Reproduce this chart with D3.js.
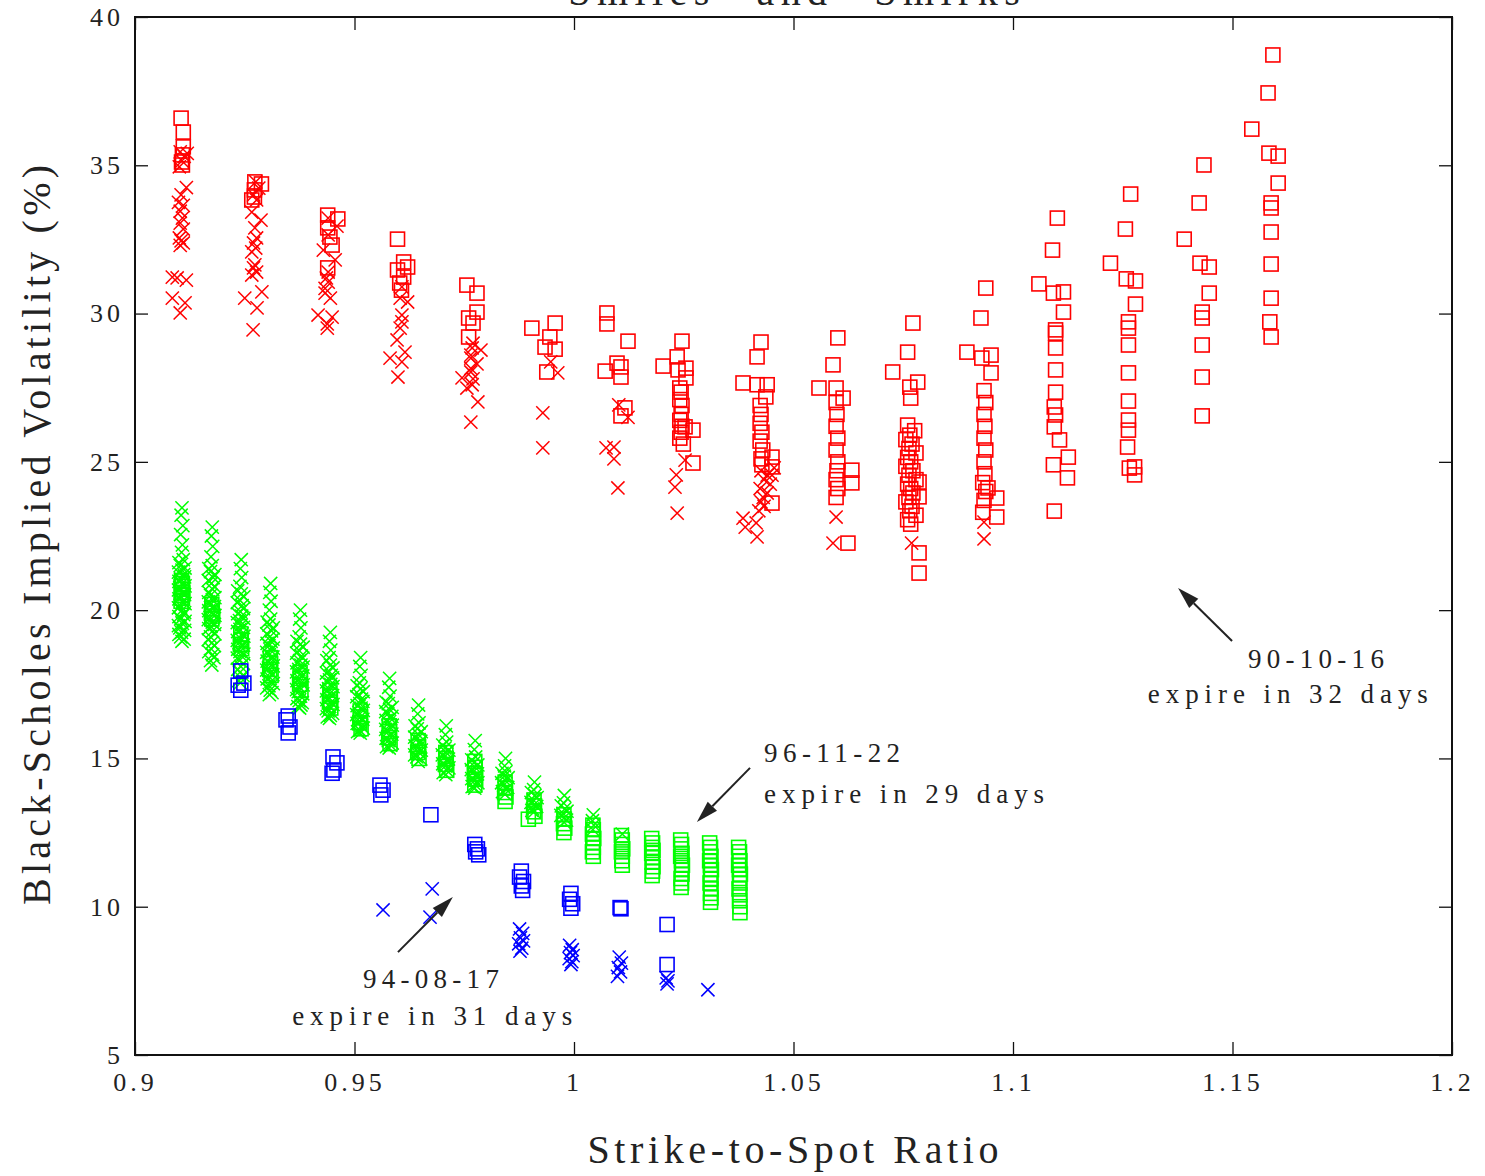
<!DOCTYPE html>
<html>
<head>
<meta charset="utf-8">
<script src="https://cdn.jsdelivr.net/npm/d3@7"></script>
<style>
  body { margin: 0; background: #fff; }
  text { font-family: "Liberation Serif", "DejaVu Serif", serif; fill: #222; }
</style>
</head>
<body>
<svg id="chart"></svg>
<script>
// Strike-to-spot ratio vs. Black-Scholes implied volatility (%) for three trade dates.

// 1990-10-16, 32 days to expiry
const oct90Cross = [
  [0.9103,35.45],[0.9112,35.30],[0.9119,35.40],[0.9107,35.15],[0.9101,34.95],
  [0.9117,34.25],[0.9105,34.00],[0.9099,33.75],[0.9110,33.65],[0.9103,33.45],[0.9108,33.22],
  [0.9103,33.05],[0.9110,32.85],[0.9101,32.55],[0.9105,32.45],[0.9110,32.38],[0.9103,32.30],
  [0.9085,31.23],[0.9096,31.20],[0.9117,31.13],[0.9085,30.52],[0.9114,30.36],[0.9103,30.02],
  [0.9275,34.44],[0.9282,34.23],[0.9270,34.00],[0.9277,33.83],[0.9266,33.42],[0.9287,33.15],
  [0.9273,32.89],[0.9277,32.55],[0.9270,32.38],[0.9275,32.21],[0.9266,32.08],[0.9273,31.64],
  [0.9270,31.54],[0.9277,31.40],[0.9266,31.30],[0.9250,30.52],[0.9289,30.73],[0.9278,30.19],
  [0.9269,29.45],
  [0.9440,33.22],[0.9460,32.95],[0.9440,32.65],[0.9429,32.14],[0.9456,31.81],[0.9440,31.40],
  [0.9436,31.20],[0.9440,31.06],[0.9433,30.85],[0.9433,30.69],[0.9445,30.52],[0.9417,29.95],
  [0.9449,29.88],[0.9438,29.65],[0.9438,29.51],
  [0.9608,30.90],[0.9604,30.52],[0.9621,30.39],[0.9608,29.95],[0.9608,29.72],[0.9604,29.51],
  [0.9597,29.11],[0.9581,28.50],[0.9615,28.70],[0.9608,28.37],[0.9599,27.86],
  [0.9770,29.00],[0.9768,28.84],[0.9788,28.77],[0.9765,28.60],[0.9765,28.50],[0.9779,28.30],
  [0.9765,28.15],[0.9745,27.83],[0.9765,28.03],[0.9770,27.80],[0.9768,27.60],[0.9756,27.49],
  [0.9781,27.02],[0.9765,26.34],
  [0.9947,28.37],[0.9963,28.00],[0.9929,26.65],[0.9929,25.47],
  [1.0102,26.92],[1.0123,26.50],[1.0073,25.47],[1.0091,25.50],[1.0091,25.10],[1.0100,24.12],
  [1.0253,25.06],[1.0233,24.56],[1.0230,24.15],[1.0235,23.27],
  [1.0426,24.70],[1.0440,24.55],[1.0433,24.40],[1.0447,24.25],[1.0424,24.10],[1.0440,23.95],
  [1.0431,23.80],[1.0426,23.65],[1.0433,23.50],[1.0421,23.35],[1.0385,23.10],[1.0390,22.80],
  [1.0415,22.94],[1.0417,22.47],[1.0451,24.55],[1.0456,24.80],
  [1.0597,23.14],[1.0590,22.26],
  [1.0769,22.26],
  [1.0934,22.97],[1.0934,22.40]
];
const oct90Square = [
  [0.9105,36.59],[0.9110,36.12],[0.9110,35.62],[0.9108,35.35],[0.9106,35.11],[0.9108,35.01],
  [0.9273,34.44],[0.9288,34.37],[0.9272,34.17],[0.9272,33.93],[0.9266,33.83],
  [0.9439,33.32],[0.9462,33.19],[0.9439,32.89],[0.9444,32.58],[0.9449,32.31],[0.9439,31.54],
  [0.9598,32.51],[0.9612,31.74],[0.9621,31.57],[0.9598,31.47],[0.9612,31.23],[0.9603,31.03],[0.9607,30.79],
  [0.9756,30.96],[0.9779,30.69],[0.9779,30.05],[0.9760,29.85],[0.9770,29.68],[0.9760,29.21],
  [0.9904,29.51],[0.9957,29.68],[0.9945,29.21],[0.9934,28.87],[0.9957,28.80],[0.9938,28.03],
  [1.0075,30.02],[1.0075,29.65],[1.0123,29.07],[1.0071,28.06],[1.0098,28.33],[1.0107,28.20],
  [1.0107,27.86],[1.0116,26.82],[1.0107,26.55],
  [1.0246,29.07],[1.0203,28.23],[1.0235,28.54],[1.0255,28.16],[1.0237,28.10],[1.0255,27.83],
  [1.0241,27.49],[1.0244,27.35],[1.0241,27.10],[1.0246,26.90],[1.0244,26.60],[1.0241,26.40],
  [1.0246,26.20],[1.0244,26.00],[1.0241,25.80],[1.0249,25.60],[1.0271,26.07],[1.0253,26.18],[1.0271,24.96],
  [1.0426,29.04],[1.0417,28.54],[1.0385,27.66],[1.0417,27.60],[1.0440,27.60],[1.0437,27.19],
  [1.0424,26.90],[1.0426,26.60],[1.0424,26.30],[1.0428,26.00],[1.0424,25.70],[1.0430,25.40],
  [1.0426,25.10],[1.0428,24.90],[1.0451,25.16],[1.0451,24.83],[1.0451,23.61],
  [1.0601,29.18],[1.0590,28.27],[1.0558,27.49],[1.0597,27.49],[1.0613,27.15],[1.0597,27.00],
  [1.0599,26.60],[1.0597,26.20],[1.0601,25.80],[1.0597,25.40],[1.0601,25.00],[1.0599,24.70],
  [1.0597,24.40],[1.0601,24.10],[1.0597,23.80],[1.0633,24.72],[1.0633,24.29],[1.0624,22.26],
  [1.0772,29.68],[1.0760,28.70],[1.0726,28.03],[1.0783,27.69],[1.0765,27.52],[1.0767,27.15],
  [1.0760,26.24],[1.0776,26.05],[1.0765,25.90],[1.0756,25.75],[1.0770,25.60],[1.0763,25.45],
  [1.0779,25.30],[1.0760,25.15],[1.0767,25.00],[1.0756,24.85],[1.0772,24.70],[1.0763,24.55],
  [1.0779,24.40],[1.0760,24.25],[1.0767,24.10],[1.0772,23.95],[1.0763,23.80],[1.0756,23.65],
  [1.0770,23.50],[1.0765,23.35],[1.0779,23.20],[1.0760,23.05],[1.0767,22.90],[1.0786,24.32],
  [1.0786,23.82],[1.0786,21.93],[1.0786,21.25],
  [1.0938,30.86],[1.0927,29.85],[1.0895,28.70],[1.0929,28.50],[1.0950,28.60],[1.0950,28.00],
  [1.0934,27.40],[1.0938,27.00],[1.0934,26.60],[1.0936,26.20],[1.0934,25.80],[1.0938,25.40],
  [1.0934,25.00],[1.0936,24.60],[1.0931,24.30],[1.0938,24.00],[1.0934,23.70],[1.0931,23.30],
  [1.0943,24.12],[1.0963,23.78],[1.0963,23.14],
  [1.1101,33.22],[1.1090,32.14],[1.1059,31.00],[1.1092,30.69],[1.1115,30.73],[1.1115,30.05],
  [1.1097,29.45],[1.1097,29.34],[1.1097,28.84],[1.1097,28.10],[1.1097,27.35],[1.1094,26.85],
  [1.1097,26.58],[1.1094,26.18],[1.1106,25.74],[1.1126,25.16],[1.1092,24.90],[1.1124,24.46],[1.1094,23.34],
  [1.1268,34.03],[1.1256,32.85],[1.1222,31.70],[1.1258,31.17],[1.1279,31.10],[1.1279,30.32],
  [1.1263,29.72],[1.1263,29.51],[1.1263,28.94],[1.1263,28.00],[1.1263,27.05],[1.1263,26.41],
  [1.1263,26.07],[1.1261,25.50],[1.1265,24.79],[1.1277,24.83],[1.1277,24.56],
  [1.1435,35.01],[1.1424,33.73],[1.1390,32.51],[1.1426,31.70],[1.1447,31.57],[1.1447,30.69],
  [1.1431,30.05],[1.1431,29.85],[1.1431,28.94],[1.1431,27.86],[1.1431,26.55],
  [1.1592,38.72],[1.1581,37.44],[1.1544,36.22],[1.1583,35.41],[1.1604,35.31],[1.1604,34.40],
  [1.1588,33.73],[1.1588,33.56],[1.1588,32.75],[1.1588,31.67],[1.1588,30.52],[1.1585,29.72],[1.1588,29.21]
];

// 1996-11-22, 29 days to expiry
const nov96Cross = [
  [0.9107,23.45],[0.9105,23.20],[0.9109,22.85],[0.9104,22.55],[0.9108,22.20],[0.9106,21.95],
  [0.9110,21.70],[0.9103,21.50],[0.9107,21.35],[0.9111,21.20],[0.9104,21.05],[0.9108,20.90],
  [0.9102,20.75],[0.9110,20.60],[0.9105,20.45],[0.9109,20.30],[0.9103,20.15],[0.9107,20.00],
  [0.9111,19.85],[0.9104,19.70],[0.9108,19.55],[0.9102,19.40],[0.9106,19.25],[0.9104,19.10],[0.9107,18.95],
  [0.9100,21.60],[0.9114,21.42],[0.9099,21.28],[0.9113,21.12],[0.9100,20.97],[0.9114,20.82],
  [0.9099,20.68],[0.9113,20.52],[0.9100,20.38],[0.9114,20.22],[0.9099,20.08],[0.9113,19.92],
  [0.9100,19.78],[0.9114,19.62],[0.9099,19.48],[0.9113,19.32],[0.9100,19.18],[0.9112,19.02],
  [0.9176,22.80],[0.9174,22.50],[0.9177,22.15],[0.9173,21.80],[0.9176,21.50],[0.9172,21.30],
  [0.9178,21.10],[0.9174,20.90],[0.9177,20.70],[0.9172,20.50],[0.9176,20.35],[0.9173,20.20],
  [0.9178,20.05],[0.9174,19.90],[0.9171,19.75],[0.9176,19.60],[0.9173,19.45],[0.9177,19.30],
  [0.9172,19.10],[0.9175,18.90],[0.9173,18.70],[0.9177,18.50],[0.9172,18.30],[0.9175,18.15],
  [0.9168,21.40],[0.9182,21.20],[0.9167,21.00],[0.9181,20.80],[0.9168,20.60],[0.9182,20.42],
  [0.9167,20.28],[0.9181,20.12],[0.9168,19.98],[0.9182,19.82],[0.9167,19.68],[0.9181,19.52],
  [0.9168,19.38],[0.9182,19.20],[0.9167,19.00],[0.9181,18.80],[0.9168,18.60],[0.9180,18.40],
  [0.9242,21.70],[0.9240,21.40],[0.9243,21.10],[0.9239,20.80],[0.9242,20.55],[0.9238,20.35],
  [0.9244,20.15],[0.9240,19.95],[0.9243,19.80],[0.9238,19.65],[0.9242,19.50],[0.9239,19.35],
  [0.9244,19.20],[0.9240,19.05],[0.9237,18.90],[0.9242,18.75],[0.9239,18.60],[0.9243,18.45],
  [0.9238,18.30],[0.9241,18.10],[0.9239,17.90],[0.9242,17.70],[0.9240,17.55],
  [0.9234,20.65],[0.9248,20.45],[0.9233,20.25],[0.9247,20.05],[0.9234,19.88],[0.9248,19.72],
  [0.9233,19.58],[0.9247,19.42],[0.9234,19.28],[0.9248,19.12],[0.9233,18.98],[0.9247,18.82],
  [0.9234,18.68],[0.9248,18.52],[0.9233,18.38],[0.9247,18.20],[0.9234,18.00],[0.9246,17.80],[0.9236,17.62],
  [0.9309,20.90],[0.9307,20.60],[0.9310,20.30],[0.9306,20.00],[0.9309,19.70],[0.9305,19.50],
  [0.9311,19.30],[0.9307,19.10],[0.9310,18.95],[0.9305,18.80],[0.9309,18.65],[0.9306,18.50],
  [0.9311,18.35],[0.9307,18.20],[0.9304,18.05],[0.9309,17.90],[0.9306,17.75],[0.9310,17.60],
  [0.9305,17.45],[0.9308,17.30],[0.9306,17.15],
  [0.9301,19.60],[0.9315,19.40],[0.9300,19.20],[0.9314,19.02],[0.9301,18.88],[0.9315,18.72],
  [0.9300,18.58],[0.9314,18.42],[0.9301,18.28],[0.9315,18.12],[0.9300,17.98],[0.9314,17.82],
  [0.9301,17.68],[0.9315,17.52],[0.9300,17.38],[0.9312,17.22],
  [0.9377,20.00],[0.9375,19.70],[0.9378,19.40],[0.9374,19.10],[0.9377,18.85],[0.9373,18.65],
  [0.9379,18.45],[0.9375,18.30],[0.9378,18.15],[0.9373,18.00],[0.9377,17.85],[0.9374,17.70],
  [0.9379,17.55],[0.9375,17.40],[0.9372,17.25],[0.9377,17.10],[0.9374,16.95],[0.9378,16.80],[0.9375,16.70],
  [0.9369,18.95],[0.9383,18.75],[0.9368,18.55],[0.9382,18.38],[0.9369,18.22],[0.9383,18.08],
  [0.9368,17.92],[0.9382,17.78],[0.9369,17.62],[0.9383,17.48],[0.9368,17.32],[0.9382,17.18],
  [0.9369,17.02],[0.9381,16.88],[0.9371,16.75],
  [0.9445,19.25],[0.9443,18.95],[0.9446,18.65],[0.9442,18.40],[0.9445,18.15],[0.9441,17.95],
  [0.9447,17.80],[0.9443,17.65],[0.9446,17.50],[0.9441,17.35],[0.9445,17.20],[0.9442,17.05],
  [0.9447,16.90],[0.9443,16.75],[0.9440,16.60],[0.9445,16.45],[0.9443,16.35],
  [0.9437,18.30],[0.9451,18.05],[0.9436,17.88],[0.9450,17.72],[0.9437,17.58],[0.9451,17.42],
  [0.9436,17.28],[0.9450,17.12],[0.9437,16.98],[0.9451,16.82],[0.9436,16.68],[0.9450,16.52],[0.9438,16.40],
  [0.9514,18.40],[0.9512,18.10],[0.9515,17.80],[0.9511,17.55],[0.9514,17.35],[0.9510,17.15],
  [0.9516,17.00],[0.9512,16.85],[0.9515,16.70],[0.9510,16.55],[0.9514,16.40],[0.9511,16.25],
  [0.9516,16.10],[0.9512,15.95],[0.9513,15.85],
  [0.9506,17.45],[0.9520,17.25],[0.9505,17.08],[0.9519,16.92],[0.9506,16.78],[0.9520,16.62],
  [0.9505,16.48],[0.9519,16.32],[0.9506,16.18],[0.9520,16.02],[0.9507,15.90],
  [0.9580,17.70],[0.9578,17.40],[0.9581,17.10],[0.9577,16.85],[0.9580,16.65],[0.9576,16.50],
  [0.9582,16.35],[0.9578,16.20],[0.9581,16.05],[0.9576,15.90],[0.9580,15.75],[0.9577,15.60],
  [0.9582,15.45],[0.9579,15.35],
  [0.9572,16.90],[0.9586,16.72],[0.9571,16.58],[0.9585,16.42],[0.9572,16.28],[0.9586,16.12],
  [0.9571,15.98],[0.9585,15.82],[0.9572,15.68],[0.9586,15.52],[0.9573,15.40],
  [0.9646,16.80],[0.9644,16.50],[0.9647,16.20],[0.9643,16.00],[0.9646,15.80],[0.9642,15.65],
  [0.9648,15.50],[0.9644,15.35],[0.9647,15.20],[0.9642,15.05],[0.9645,14.90],
  [0.9638,16.10],[0.9652,15.90],[0.9637,15.72],[0.9651,15.58],[0.9638,15.42],[0.9652,15.28],
  [0.9637,15.12],[0.9651,14.98],
  [0.9709,16.10],[0.9707,15.80],[0.9710,15.55],[0.9706,15.35],[0.9709,15.20],[0.9705,15.05],
  [0.9711,14.90],[0.9707,14.75],[0.9710,14.60],[0.9708,14.45],
  [0.9701,15.45],[0.9715,15.28],[0.9700,15.12],[0.9714,14.98],[0.9701,14.82],[0.9715,14.68],[0.9702,14.52],
  [0.9775,15.60],[0.9773,15.30],[0.9776,15.05],[0.9772,14.85],[0.9775,14.70],[0.9771,14.55],
  [0.9777,14.40],[0.9773,14.25],[0.9776,14.10],[0.9774,14.00],
  [0.9767,14.95],[0.9781,14.78],[0.9766,14.62],[0.9780,14.48],[0.9767,14.32],[0.9781,14.18],[0.9768,14.05],
  [0.9844,15.00],[0.9842,14.75],[0.9845,14.55],[0.9841,14.40],[0.9844,14.25],[0.9840,14.10],
  [0.9846,13.95],[0.9843,13.80],
  [0.9836,14.50],[0.9850,14.35],[0.9835,14.18],[0.9849,14.02],[0.9837,13.88],
  [0.9910,14.20],[0.9908,13.95],[0.9911,13.75],[0.9907,13.60],[0.9910,13.45],[0.9906,13.30],[0.9909,13.20],
  [0.9903,13.85],[0.9916,13.68],[0.9902,13.52],[0.9915,13.38],[0.9904,13.25],
  [0.9978,13.75],[0.9976,13.50],[0.9979,13.30],[0.9975,13.15],[0.9978,13.00],[0.9977,12.85],
  [0.9971,13.40],[0.9984,13.22],[0.9970,13.08],[0.9983,12.92],
  [1.0044,13.10],[1.0042,12.90],[1.0045,12.75],[1.0043,12.60],
  [1.0110,12.45]
];
const nov96Square = [
  [0.9106,21.00],[0.9108,20.90],[0.9105,20.80],[0.9107,20.70],[0.9109,20.60],[0.9106,20.50],[0.9108,20.40],[0.9105,20.30],
  [0.9175,20.20],[0.9176,20.05],[0.9174,19.90],[0.9177,19.80],[0.9175,19.70],
  [0.9241,19.20],[0.9242,19.00],[0.9240,18.85],[0.9243,18.70],
  [0.9308,18.40],[0.9309,18.20],[0.9307,18.00],[0.9310,17.80],
  [0.9376,17.90],[0.9377,17.70],[0.9375,17.50],[0.9378,17.30],
  [0.9444,17.30],[0.9445,17.10],[0.9443,16.90],[0.9446,16.70],
  [0.9513,16.60],[0.9514,16.40],[0.9512,16.20],[0.9515,16.00],
  [0.9579,16.10],[0.9580,15.90],[0.9578,15.70],[0.9581,15.50],
  [0.9645,15.60],[0.9646,15.40],[0.9644,15.20],[0.9647,15.00],
  [0.9708,15.20],[0.9709,15.00],[0.9707,14.80],[0.9710,14.60],
  [0.9774,14.90],[0.9775,14.70],[0.9773,14.50],[0.9776,14.30],[0.9774,14.10],
  [0.9843,14.20],[0.9844,14.00],[0.9842,13.85],[0.9845,13.70],[0.9843,13.55],
  [0.9909,13.60],[0.9910,13.40],[0.9908,13.20],[0.9911,13.05],[0.9896,12.95],
  [0.9977,13.10],[0.9978,12.95],[0.9976,12.80],[0.9979,12.65],[0.9977,12.50],
  [1.0043,12.75],[1.0044,12.60],[1.0042,12.45],[1.0045,12.30],[1.0043,12.15],[1.0044,12.00],[1.0042,11.85],[1.0044,11.70],
  [1.0108,12.40],[1.0110,12.25],[1.0109,12.10],[1.0111,11.95],[1.0108,11.85],[1.0110,11.70],[1.0109,11.55],[1.0110,11.40],
  [1.0177,12.30],[1.0179,12.15],[1.0178,12.00],[1.0180,11.90],[1.0177,11.80],[1.0179,11.65],[1.0178,11.50],
  [1.0180,11.35],[1.0179,11.20],[1.0178,11.05],
  [1.0243,12.25],[1.0245,12.10],[1.0244,11.95],[1.0246,11.80],[1.0243,11.70],[1.0245,11.55],[1.0247,11.40],
  [1.0245,11.25],[1.0246,11.10],[1.0244,10.95],[1.0245,10.80],[1.0244,10.65],
  [1.0309,12.15],[1.0311,12.00],[1.0310,11.85],[1.0312,11.70],[1.0309,11.55],[1.0311,11.40],[1.0313,11.25],
  [1.0311,11.10],[1.0312,10.95],[1.0310,10.80],[1.0312,10.60],[1.0311,10.45],[1.0312,10.30],[1.0311,10.15],
  [1.0375,12.00],[1.0377,11.85],[1.0376,11.70],[1.0378,11.55],[1.0375,11.40],[1.0377,11.25],[1.0379,11.10],
  [1.0377,10.95],[1.0378,10.80],[1.0376,10.60],[1.0378,10.40],[1.0377,10.20],[1.0378,10.00],[1.0378,9.80]
];

// 1994-08-17, 31 days to expiry
const aug94Cross = [
  [0.9565,9.89],[0.9677,10.60],[0.9672,9.65],
  [0.9876,9.25],[0.9883,9.10],[0.9878,8.95],[0.9885,8.85],[0.9874,8.75],[0.9881,8.60],[0.9877,8.50],
  [0.9990,8.70],[0.9996,8.55],[0.9992,8.45],[0.9998,8.35],[0.9989,8.25],[0.9995,8.15],[0.9993,8.05],
  [1.0103,8.30],[1.0108,8.10],[1.0101,7.95],[1.0106,7.80],[1.0099,7.65],
  [1.0210,7.60],[1.0214,7.50],[1.0212,7.40],
  [1.0305,7.20]
];
const aug94Square = [
  [0.9241,17.95],[0.9235,17.47],[0.9248,17.54],[0.9241,17.30],
  [0.9349,16.43],[0.9344,16.30],[0.9353,16.06],[0.9349,15.86],
  [0.9451,15.05],[0.9460,14.85],[0.9453,14.61],[0.9449,14.50],
  [0.9558,14.10],[0.9565,13.93],[0.9560,13.77],
  [0.9674,13.10],
  [0.9774,12.10],[0.9780,11.95],[0.9776,11.85],[0.9783,11.75],
  [0.9880,11.20],[0.9876,11.00],[0.9885,10.85],[0.9880,10.70],[0.9883,10.55],
  [0.9993,10.45],[0.9990,10.25],[0.9997,10.10],[0.9993,9.95],
  [1.0105,9.97],[1.0107,9.93],
  [1.0212,9.40],
  [1.0212,8.05]
];

// Axis ticks
const xTicks = [0.9, 0.95, 1, 1.05, 1.1, 1.15, 1.2];
const xTickLabels = ["0.9", "0.95", "1", "1.05", "1.1", "1.15", "1.2"];
const yTicks = [5, 10, 15, 20, 25, 30, 35, 40];
const yTickLabels = ["5", "10", "15", "20", "25", "30", "35", "40"];

// Date annotations: label lines and arrows, placed in data units
const notes = [
  { date: "90-10-16", expiry: "expire in 32 days", anchor: "middle",
    at: [1.1690, 18.05], at2: [1.1626, 16.86], tail: [1.1499, 18.96], head: [1.1376, 20.75] },
  { date: "96-11-22", expiry: "expire in 29 days", anchor: "start",
    at: [1.0433, 14.88], at2: [1.0433, 13.50], tail: [1.0401, 14.68], head: [1.0280, 12.86] },
  { date: "94-08-17", expiry: "expire in 31 days", anchor: "middle",
    at: [0.9674, 7.26], at2: [0.9677, 6.01], tail: [0.9599, 8.47], head: [0.9724, 10.33] }
];

const W = 1485, H = 1176;
const svg = d3.select("#chart").attr("width", W).attr("height", H);
svg.append("rect").attr("width", W).attr("height", H).attr("fill", "#fff");

const x = d3.scaleLinear().domain([0.9, 1.2]).range([135, 1452]);
const y = d3.scaleLinear().domain([5, 40]).range([1055, 17]);
const [x0, x1] = x.range(), [y0, y1] = y.range();

// Boxed axes with inward ticks on all four sides
const tick = 13;
const gB = svg.append("g").attr("transform", `translate(0,${y0})`)
  .call(d3.axisBottom(x).tickValues(xTicks).tickSize(-tick).tickSizeOuter(0).tickPadding(18)
    .tickFormat((d, i) => xTickLabels[i]));
const gL = svg.append("g").attr("transform", `translate(${x0},0)`)
  .call(d3.axisLeft(y).tickValues(yTicks).tickSize(-tick).tickSizeOuter(0).tickPadding(11)
    .tickFormat((d, i) => yTickLabels[i]));
const gT = svg.append("g").attr("transform", `translate(0,${y1})`)
  .call(d3.axisTop(x).tickValues(xTicks).tickSize(-tick).tickSizeOuter(0).tickFormat(""));
const gR = svg.append("g").attr("transform", `translate(${x1},0)`)
  .call(d3.axisRight(y).tickValues(yTicks).tickSize(-tick).tickSizeOuter(0).tickFormat(""));
[gB, gL, gT, gR].forEach(g => {
  g.select(".domain").remove();
  g.selectAll(".tick line").attr("stroke", "#111").attr("stroke-width", 1.3);
  g.selectAll(".tick text").attr("font-size", 26).attr("fill", "#222")
    .attr("font-family", "'Liberation Serif', 'DejaVu Serif', serif")
    .attr("letter-spacing", 4);
});
svg.append("rect").attr("x", x0).attr("y", y1).attr("width", x1 - x0).attr("height", y0 - y1)
  .attr("fill", "none").attr("stroke", "#111").attr("stroke-width", 2);

// Markers
const half = 6.6, side = 14;
const crossPath = `M${-half},${-half}L${half},${half}M${-half},${half}L${half},${-half}`;
function drawCross(data, color) {
  svg.append("g").selectAll("path").data(data).join("path")
    .attr("transform", d => `translate(${x(d[0])},${y(d[1])})`)
    .attr("d", crossPath).attr("fill", "none").attr("stroke", color).attr("stroke-width", 1.5);
}
function drawSquare(data, color) {
  svg.append("g").selectAll("rect").data(data).join("rect")
    .attr("x", d => x(d[0]) - side / 2).attr("y", d => y(d[1]) - side / 2)
    .attr("width", side).attr("height", side)
    .attr("fill", "none").attr("stroke", color).attr("stroke-width", 1.6);
}
drawCross(oct90Cross, "#ff0000");
drawSquare(oct90Square, "#ff0000");
drawCross(nov96Cross, "#00ff00");
drawSquare(nov96Square, "#00ff00");
drawCross(aug94Cross, "#0000ff");
drawSquare(aug94Square, "#0000ff");

// Annotations
const dateLen = 136, expLen = 280;
notes.forEach(n => {
  svg.append("text").attr("x", x(n.at[0])).attr("y", y(n.at[1]))
    .attr("text-anchor", n.anchor).attr("font-size", 27)
    .attr("textLength", dateLen).attr("lengthAdjust", "spacing").text(n.date);
  svg.append("text").attr("x", x(n.at2[0])).attr("y", y(n.at2[1]))
    .attr("text-anchor", n.anchor).attr("font-size", 27)
    .attr("textLength", expLen).attr("lengthAdjust", "spacing").text(n.expiry);
  const tx = x(n.tail[0]), ty = y(n.tail[1]), hx = x(n.head[0]), hy = y(n.head[1]);
  const ang = Math.atan2(hy - ty, hx - tx);
  const L = 22, Wd = 6.5;
  const bx = hx - L * Math.cos(ang), by = hy - L * Math.sin(ang);
  svg.append("line").attr("x1", tx).attr("y1", ty).attr("x2", bx).attr("y2", by)
    .attr("stroke", "#222").attr("stroke-width", 2);
  svg.append("path")
    .attr("d", `M${hx},${hy}L${bx - Wd * Math.sin(ang)},${by + Wd * Math.cos(ang)}` +
               `L${bx + Wd * Math.sin(ang)},${by - Wd * Math.cos(ang)}Z`)
    .attr("fill", "#222");
});

// Titles
svg.append("text").attr("x", 794).attr("y", 5).attr("text-anchor", "middle")
  .attr("font-size", 40).attr("textLength", 500).attr("lengthAdjust", "spacing")
  .text("\u201CSmiles\u201D and \u201CSmirks\u201D");
svg.append("text").attr("x", (x0 + x1) / 2 - 0.5).attr("y", 1163).attr("text-anchor", "middle")
  .attr("font-size", 40).attr("textLength", 411).attr("lengthAdjust", "spacing")
  .text("Strike-to-Spot Ratio");
svg.append("text").attr("transform", "translate(50,535) rotate(-90)").attr("text-anchor", "middle")
  .attr("font-size", 40).attr("textLength", 740).attr("lengthAdjust", "spacing")
  .text("Black-Scholes Implied Volatility (%)");
</script>
</body>
</html>
